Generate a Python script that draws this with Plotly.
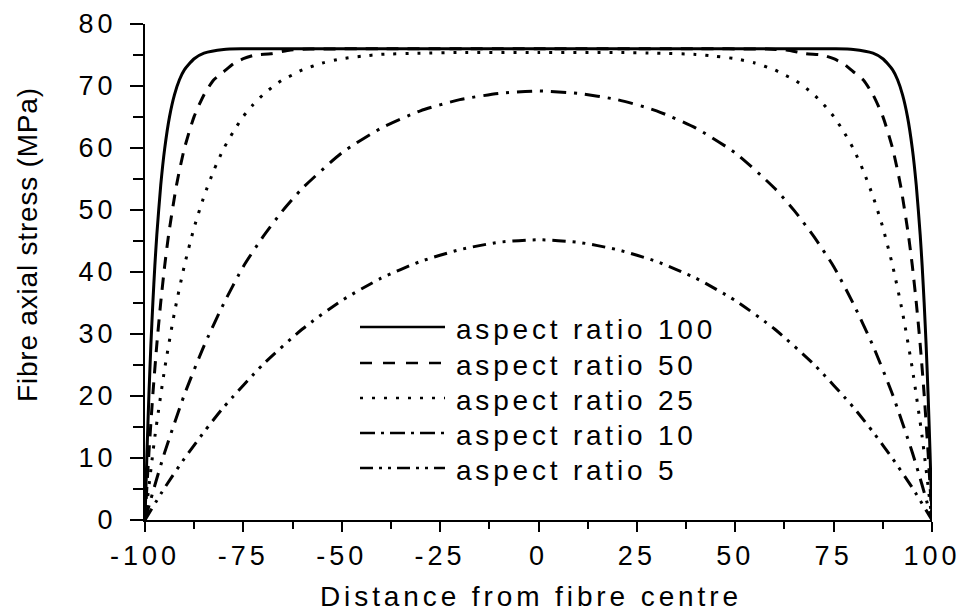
import plotly.graph_objects as go

# ---------------- data ----------------
series_names = ["aspect ratio 100", "aspect ratio 50", "aspect ratio 25",
                "aspect ratio 10", "aspect ratio 5"]

x_ar100 = [-100, -99.5, -99, -98.5, -98, -97.5, -97, -96, -95, -93.75, -92.5,
           -91.25, -90, -87.5, -85, -80, -75, -50, 0, 50, 75, 80, 85, 87.5,
           90, 91.25, 92.5, 93.75, 95, 96, 97, 97.5, 98, 98.5, 99, 99.5, 100]
y_ar100 = [0, 10.9, 20.3, 28.3, 35.1, 41.0, 46.0, 54.0, 59.9, 65.1, 68.6,
           71.0, 72.6, 74.4, 75.3, 75.9, 76.0, 76.0, 76.0, 76.0, 76.0, 75.9,
           75.3, 74.4, 72.6, 71.0, 68.6, 65.1, 59.9, 54.0, 46.0, 41.0, 35.1,
           28.3, 20.3, 10.9, 0]

x_ar50 = [-100, -99, -98, -97, -96, -95, -94, -92, -90, -87.5, -85, -82.5,
          -80, -77.5, -75, -72, -68, -63, -58, -40, 0, 40, 58, 63, 68, 72, 75,
          77.5, 80, 82.5, 85, 87.5, 90, 92, 94, 95, 96, 97, 98, 99, 100]
y_ar50 = [0, 10.9, 20.3, 28.3, 35.1, 41.0, 46.0, 54.0, 59.9, 65.1, 68.6, 71.0,
          72.3, 73.6, 74.4, 75.0, 75.2, 75.8, 75.95, 76.0, 76.0, 76.0, 75.95,
          75.8, 75.2, 75.0, 74.4, 73.6, 72.3, 71.0, 68.6, 65.1, 59.9, 54.0,
          46.0, 41.0, 35.1, 28.3, 20.3, 10.9, 0]

x_ar25 = [-100, -97.5, -95, -92.5, -90, -87.5, -85, -82.5, -80, -77.5, -75,
          -72.5, -70, -67.5, -65, -62.5, -60, -55, -50, -45, -40, -30, -20, 0,
          20, 30, 40, 45, 50, 55, 60, 62.5, 65, 67.5, 70, 72.5, 75, 77.5, 80,
          82.5, 85, 87.5, 90, 92.5, 95, 97.5, 100]
y_ar25 = [0, 13.4, 24.4, 33.5, 41.0, 47.2, 52.2, 56.4, 59.9, 62.7, 65.1, 67.0,
          68.6, 69.9, 71.0, 71.8, 72.6, 73.7, 74.4, 74.8, 75.1, 75.3, 75.4,
          75.4, 75.4, 75.3, 75.1, 74.8, 74.4, 73.7, 72.6, 71.8, 71.0, 69.9,
          68.6, 67.0, 65.1, 62.7, 59.9, 56.4, 52.2, 47.2, 41.0, 33.5, 24.4,
          13.4, 0]

x_ar10 = [-100, -97.5, -95, -90, -85, -80, -75, -70, -65, -60, -50, -40, -30,
          -20, -10, 0, 10, 20, 30, 40, 50, 60, 65, 70, 75, 80, 85, 90, 95,
          97.5, 100]
y_ar10 = [0, 5.6, 10.9, 20.2, 28.1, 34.9, 40.9, 45.7, 49.9, 53.5, 59.2, 63.2,
          66.0, 67.8, 68.8, 69.2, 68.8, 67.8, 66.0, 63.2, 59.2, 53.5, 49.9,
          45.7, 40.9, 34.9, 28.1, 20.2, 10.9, 5.6, 0]

x_ar5 = [-100, -95, -90, -85, -80, -70, -60, -50, -40, -30, -20, -10, 0, 10,
         20, 30, 40, 50, 60, 70, 80, 85, 90, 95, 100]
y_ar5 = [0, 5.2, 9.9, 14.2, 18.2, 25.1, 30.8, 35.4, 39.0, 41.7, 43.6, 44.8,
         45.2, 44.8, 43.6, 41.7, 39.0, 35.4, 30.8, 25.1, 18.2, 14.2, 9.9, 5.2,
         0]

x_tick_vals = [-100, -75, -50, -25, 0, 25, 50, 75, 100]
x_tick_labels = ["-100", "-75", "-50", "-25", "0", "25", "50", "75", "100"]
x_minor_vals = [-87.5, -62.5, -37.5, -12.5, 12.5, 37.5, 62.5, 87.5]
y_tick_vals = [0, 10, 20, 30, 40, 50, 60, 70, 80]
y_tick_labels = ["0", "10", "20", "30", "40", "50", "60", "70", "80"]
y_minor_vals = [5, 15, 25, 35, 45, 55, 65, 75]

x_title = "Distance from fibre centre"
y_title = "Fibre axial stress (MPa)"

# ---------------- styles ----------------
dashes = ["solid", "12px,9px", "3px,9px", "15px,8px,3px,8px",
          "13px,7px,3px,7px,3px,7px"]
legend_dashes = ["solid", "12px,11px", "3px,9px", "15px,6px,3px,6px",
                 "13px,6px,3px,6px,3px,6px"]
FONT = "Arial, 'Liberation Sans', Helvetica, sans-serif"


def spaced(t, px):
    return '<span style="letter-spacing:%gpx">%s</span>' % (px, t)


xs = [x_ar100, x_ar50, x_ar25, x_ar10, x_ar5]
ys = [y_ar100, y_ar50, y_ar25, y_ar10, y_ar5]

fig = go.Figure()
# draw patterned curves first, solid on top
order = [4, 3, 2, 1, 0]
for i in order:
    fig.add_trace(go.Scatter(x=xs[i], y=ys[i], mode="lines",
                             name=series_names[i],
                             line=dict(color="black", width=3, dash=dashes[i],
                                       shape="spline", smoothing=0.6)))

# plot area geometry (px) for placing legend / titles
L, R, T, B = 145, 29, 24, 94
W, H = 961, 614
pw, ph = W - L - R, H - T - B


def px_x(px):
    return (px - L) / pw


def px_y(py):
    return (H - B - py) / ph


shapes = []
annotations = []
row_y = [327, 363, 398, 433, 468]
for name, d, ry in zip(series_names, legend_dashes, row_y):
    shapes.append(dict(type="line", xref="paper", yref="paper",
                       x0=px_x(360), x1=px_x(445), y0=px_y(ry), y1=px_y(ry),
                       line=dict(color="black", width=2.5, dash=d)))
    annotations.append(dict(xref="paper", yref="paper", x=px_x(454),
                            y=px_y(ry + 2), xanchor="left", yanchor="middle",
                            showarrow=False, text=spaced(name, 3.8),
                            font=dict(size=28, family=FONT, color="black")))

annotations.append(dict(xref="paper", yref="paper", x=px_x(531),
                        y=px_y(596), xanchor="center", yanchor="middle",
                        showarrow=False, text=spaced(x_title, 3.9),
                        font=dict(size=28, family=FONT, color="black")))
annotations.append(dict(xref="paper", yref="paper", x=px_x(27),
                        y=px_y(245), xanchor="center", yanchor="middle",
                        showarrow=False, text=spaced(y_title, 0.8),
                        textangle=-90,
                        font=dict(size=28, family=FONT, color="black")))

axis_common = dict(showline=True, linecolor="black", linewidth=2,
                   ticks="outside", tickwidth=2, tickcolor="black",
                   showgrid=False, zeroline=False, mirror=False,
                   tickmode="array",
                   tickfont=dict(size=27, family=FONT, color="black"))

fig.update_layout(
    width=W, height=H,
    margin=dict(l=L, r=R, t=T, b=B, autoexpand=False),
    plot_bgcolor="white", paper_bgcolor="white",
    showlegend=False,
    font=dict(family=FONT, color="black"),
    shapes=shapes, annotations=annotations,
    xaxis=dict(range=[-100, 100], tickvals=x_tick_vals,
               ticktext=[spaced(t, 4) for t in x_tick_labels],
               ticklen=10, ticklabelstandoff=1,
               minor=dict(tickmode="array", tickvals=x_minor_vals,
                          ticks="outside", ticklen=7, tickwidth=2,
                          tickcolor="black", showgrid=False),
               **axis_common),
    yaxis=dict(range=[0, 80], tickvals=y_tick_vals,
               ticktext=[spaced(t, 4) for t in y_tick_labels],
               ticklen=13, ticklabelstandoff=8,
               minor=dict(tickmode="array", tickvals=y_minor_vals,
                          ticks="outside", ticklen=10, tickwidth=2,
                          tickcolor="black", showgrid=False),
               **axis_common),
)

fig.write_html("out.html")
